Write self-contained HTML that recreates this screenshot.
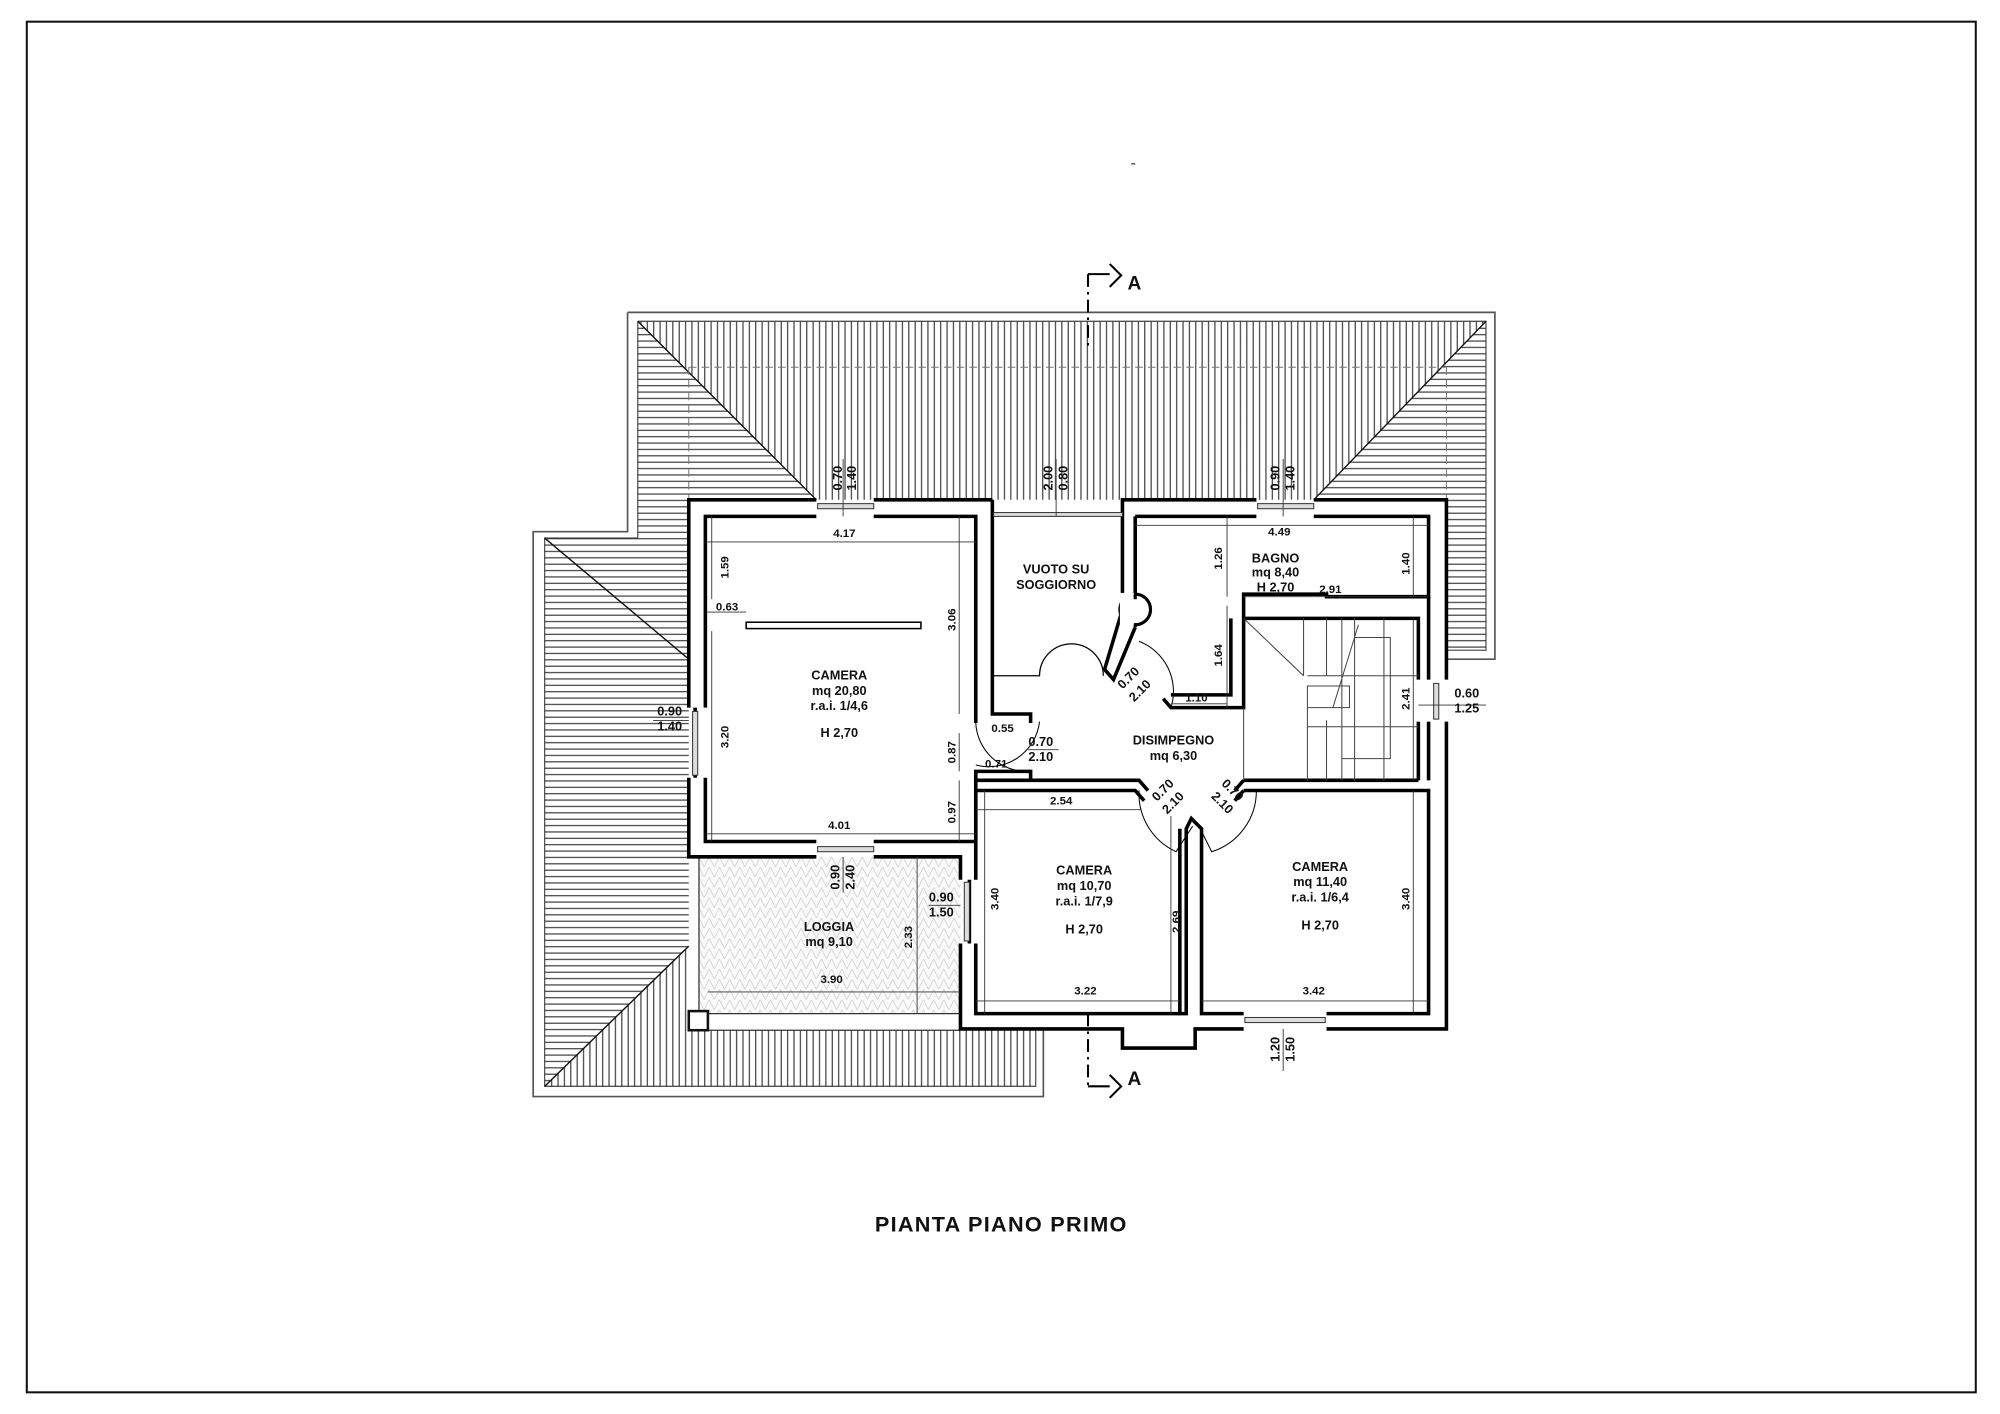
<!DOCTYPE html>
<html><head><meta charset="utf-8"><style>
html,body{margin:0;padding:0;background:#fff;}
svg{display:block;}
text{font-family:"Liberation Sans",sans-serif;font-weight:bold;fill:#111;}
</style></head><body>
<svg width="2000" height="1414" viewBox="0 0 1568 1109" preserveAspectRatio="none" xmlns="http://www.w3.org/2000/svg">
<defs>
<pattern id="hv" width="5" height="5" patternUnits="userSpaceOnUse"><line x1="2.5" y1="0" x2="2.5" y2="5" stroke="#333" stroke-width="0.9"/></pattern>
<pattern id="hh" width="5" height="5" patternUnits="userSpaceOnUse"><line x1="0" y1="2.5" x2="5" y2="2.5" stroke="#333" stroke-width="0.9"/></pattern>
<pattern id="hz" width="8" height="8" patternUnits="userSpaceOnUse"><path d="M0,8 L4,0 L8,8" fill="none" stroke="#ccc" stroke-width="0.6"/></pattern>
</defs>
<rect x="21" y="17" width="1528" height="1075" fill="none" stroke="#111" stroke-width="1.6"/>

<path d="M492,245 H1172 V517 H1134 M492,245 V417 H418 V860 H818 V808" fill="none" stroke="#555" stroke-width="1.3"/>
<path d="M500,252 H1165 V510 H1134 M500,252 V422 H427 V852 H812 V808" fill="none" stroke="#555" stroke-width="1"/>
<polygon points="500,252 1165,252 1030,392 640,392" fill="url(#hv)"/>
<polygon points="1165,252 1030,392 1134,392 1134,510 1165,510" fill="url(#hh)"/>
<polygon points="500,252 640,392 540,392 540,742 427,852 427,422 500,422" fill="url(#hh)"/>
<polygon points="427,852 540,742 540,808 812,808 812,852" fill="url(#hv)"/>
<path d="M500,252 L640,392 M1165,252 L1030,392 M427,422 L540,517 M427,852 L540,742" stroke="#111" stroke-width="1.1"/>
<path d="M540,288 H1134 M540,288 V392 M1134,288 V392" stroke="#777" stroke-width="0.8" stroke-dasharray="6,4" fill="none"/>

<rect x="548" y="672" width="205" height="123" fill="#fafafa"/>
<rect x="548" y="672" width="205" height="123" fill="url(#hz)"/>
<path d="M548,672 V795 M555,795 H753 M555,808 H753" stroke="#333" stroke-width="1" fill="none"/>
<rect x="540" y="793" width="15" height="15" fill="#fff" stroke="#111" stroke-width="2"/>

<g fill="none" stroke="#000" stroke-width="2.8" stroke-linejoin="miter">
<path d="M640,392 H540 V555 M540,610 V672 H640 M685,672 H753 V690 M753,740 V807 H880 V822 H937 V807 H975 M1040,807 H1134 V566 M1134,533 V392 H1030 M985,392 H880 V478 L866,525 L873,533 L890,492 M778,392 V560 H808 V567"/>
<path d="M685,392 H778"/>
<path d="M640,405 H553 V555 M553,610 V660 H640 M685,660 H765 V605 H808 V612 M765,567 V405 H685"/>
<path d="M545,555 V610"/>
<path d="M890,405 H985 M1030,405 H1120 V468 H1040 V466 H975 V555 H918 L912,548 M890,405 V470"/>
<path d="M965,485 V545 H918"/>
<path d="M975,485 H1112 V533 M1112,566 V612"/>
<path d="M1120,468 V533 M1120,566 V612"/>
<path d="M765,612 H893 L900,620 M765,620 H890 L897,628"/>
<path d="M975,612 H1112 M975,620 H1120 V795 H1040 M975,795 H942 V650 L934,642 L930,650 V795 H925 V650"/>
<path d="M975,612 L968,620 M975,620 L968,628"/>
<path d="M765,620 V690 M765,740 V795 H925"/>
<path d="M760,690 V740"/>
</g>
<g stroke="#333" stroke-width="0.8" fill="#ddd">
<rect x="641" y="395" width="44" height="4"/><rect x="986" y="395" width="44" height="4"/>
<rect x="779" y="402" width="101" height="3"/>
<rect x="543" y="558" width="4" height="50"/><rect x="641" y="664" width="44" height="4"/>
<rect x="756" y="692" width="4" height="46"/><rect x="1124" y="536" width="4" height="28"/>
<rect x="976" y="798" width="63" height="4"/>
</g>
<rect x="585" y="488" width="137" height="5" fill="#fff" stroke="#000" stroke-width="1.2"/>
<path d="M778,530 H815 A25,25 0 0 1 865,530" fill="none" stroke="#000" stroke-width="1"/>
<circle cx="890" cy="478" r="12" fill="#fff" stroke="#000" stroke-width="2.5"/>
<rect x="878" y="465" width="11" height="27" fill="#fff"/>
<path d="M890,470 V466 M890,490 V492" stroke="#000" stroke-width="2.5"/>
<g fill="none" stroke="#000" stroke-width="0.8">
<path d="M893,503 A42,42 0 0 1 918,555"/>
<path d="M765,567 A40,40 0 0 0 805,605"/>
<path d="M893,620 A50,50 0 0 0 922,668 L935,648"/>
<path d="M985,620 A50,50 0 0 1 950,668 L940,648"/>
<path d="M815,566 A40,40 0 0 1 765,600"/>
</g>
<g fill="none" stroke="#444" stroke-width="0.8">
<path d="M975,485 L1022,530 M1022,485 V530 M1040,485 V530 M1052,485 V612 M1062,485 V612 M1085,485 V612 M1062,500 H1090 V595 H1052 M1025,530 H1112 M1025,538 H1058 V555 H1025 Z M1025,555 V612 M1040,565 V612 M1025,570 H1112 M975,555 V612 M1065,490 L1045,555"/>
</g>
<g stroke="#333" stroke-width="0.7" fill="none">
<path d="M553,425 H765 M558,405 V470 M553,480 H585 M752,405 V560 M558,495 V660 M752,575 V605 M752,612 V660 M553,654 H765"/>
<path d="M890,412 H1120 M962,405 V468 M975,468 H1120 M1108,405 V468 M962,475 V555 M918,552 H962"/>
<path d="M765,635 H895 M918,640 V795 M765,785 H925 M942,785 H1120 M1108,620 V795 M772,620 V795"/>
<path d="M719,672 V795 M555,778 H753 M1108,485 V612 M1112,553 H1165"/>
<path d="M661,360 V405 M828,360 V405 M1006,360 V405 M661,672 V700 M1006,807 V840"/>
<path d="M512,565 H540 M728,710 H753 M806,588 H830"/>
</g>
<g stroke="#000" stroke-width="1.6" fill="none">
<path d="M853,215 V272" stroke-dasharray="10,4,2,4"/>
<path d="M853,215 H870 M870,207 L879,216 L870,225"/>
<path d="M853,795 V852" stroke-dasharray="10,4,2,4"/>
<path d="M853,852 H870 M870,843 L879,852 L870,861"/>
</g>
<text x="884" y="227" font-size="15">A</text>
<text x="884" y="851" font-size="15">A</text>

<g font-size="10" text-anchor="middle">
<text transform="translate(660,375) rotate(-90)">0.70</text>
<text transform="translate(671,375) rotate(-90)">1.40</text>
<text transform="translate(825,375) rotate(-90)">2.00</text>
<text transform="translate(837,375) rotate(-90)">0.80</text>
<text transform="translate(1003,375) rotate(-90)">0.90</text>
<text transform="translate(1015,375) rotate(-90)">1.40</text>
<text x="662" y="421" font-size="9">4.17</text>
<text transform="translate(571,445) rotate(-90)" font-size="9">1.59</text>
<text x="570" y="479" font-size="9">0.63</text>
<text transform="translate(749,486) rotate(-90)" font-size="9">3.06</text>
<text x="658" y="533">CAMERA</text>
<text x="658" y="545">mq 20,80</text>
<text x="658" y="557">r.a.i. 1/4,6</text>
<text x="658" y="578">H 2,70</text>
<text transform="translate(571,578) rotate(-90)" font-size="9">3.20</text>
<text transform="translate(749,590) rotate(-90)" font-size="9">0.87</text>
<text transform="translate(749,637) rotate(-90)" font-size="9">0.97</text>
<text x="658" y="650" font-size="9">4.01</text>
<text x="525" y="561">0.90</text>
<text x="525" y="573">1.40</text>
<text x="828" y="450">VUOTO SU</text>
<text x="828" y="462">SOGGIORNO</text>
<text x="1000" y="441">BAGNO</text>
<text x="1000" y="452">mq 8,40</text>
<text x="1000" y="464">H 2,70</text>
<text x="1043" y="465" font-size="9">2.91</text>
<text x="1003" y="420" font-size="9">4.49</text>
<text transform="translate(958,438) rotate(-90)" font-size="9">1.26</text>
<text transform="translate(1105,442) rotate(-90)" font-size="9">1.40</text>
<text transform="translate(958,514) rotate(-90)" font-size="9">1.64</text>
<text x="938" y="550" font-size="9">1.10</text>
<text transform="translate(887,534) rotate(-45)">0.70</text>
<text transform="translate(896,544) rotate(-45)">2.10</text>
<text x="786" y="574" font-size="9">0.55</text>
<text x="816" y="585">0.70</text>
<text x="816" y="597">2.10</text>
<text x="781" y="602" font-size="9">0.71</text>
<text x="920" y="584">DISIMPEGNO</text>
<text x="920" y="596">mq 6,30</text>
<text transform="translate(1105,548) rotate(-90)" font-size="9">2.41</text>
<text x="1150" y="547">0.60</text>
<text x="1150" y="559">1.25</text>
<text x="832" y="631" font-size="9">2.54</text>
<text transform="translate(914,622) rotate(-45)">0.70</text>
<text transform="translate(922,632) rotate(-45)">2.10</text>
<text transform="translate(964,622) rotate(45)">0.70</text>
<text transform="translate(956,632) rotate(45)">2.10</text>
<text x="850" y="686">CAMERA</text>
<text x="850" y="698">mq 10,70</text>
<text x="850" y="710">r.a.i. 1/7,9</text>
<text x="850" y="732">H 2,70</text>
<text transform="translate(783,705) rotate(-90)" font-size="9">3.40</text>
<text transform="translate(925,723) rotate(-90)" font-size="9">2.69</text>
<text x="851" y="780" font-size="9">3.22</text>
<text x="1035" y="683">CAMERA</text>
<text x="1035" y="695">mq 11,40</text>
<text x="1035" y="707">r.a.i. 1/6,4</text>
<text x="1035" y="729">H 2,70</text>
<text transform="translate(1105,705) rotate(-90)" font-size="9">3.40</text>
<text x="1030" y="780" font-size="9">3.42</text>
<text transform="translate(658,688) rotate(-90)">0.90</text>
<text transform="translate(670,688) rotate(-90)">2.40</text>
<text x="738" y="707">0.90</text>
<text x="738" y="719">1.50</text>
<text x="650" y="730">LOGGIA</text>
<text x="650" y="742">mq 9,10</text>
<text transform="translate(715,735) rotate(-90)" font-size="9">2.33</text>
<text x="652" y="771" font-size="9">3.90</text>
<text transform="translate(1003,823) rotate(-90)">1.20</text>
<text transform="translate(1015,823) rotate(-90)">1.50</text>
</g>
<text x="785" y="966" font-size="17" text-anchor="middle" letter-spacing="1">PIANTA PIANO PRIMO</text>
<rect x="887" y="128" width="3" height="1" fill="#333"/>
</svg>
</body></html>
